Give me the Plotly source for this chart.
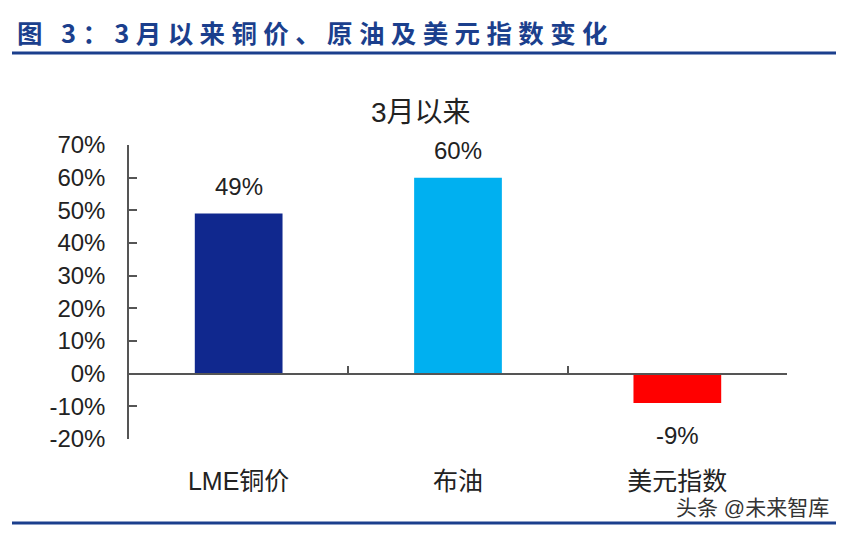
import plotly.graph_objects as go

# data
categories = ["LME铜价", "布油", "美元指数"]
values = [49, 60, -9]
labels = ["49%", "60%", "-9%"]
bar_colors = ["#10288e", "#00b0f0", "#ff0000"]
y_ticks = [-20, -10, 0, 10, 20, 30, 40, 50, 60, 70]
y_tick_text = [f"{v}%" for v in y_ticks]

# the page has an 8px body margin, so the figure sits at (8, 8)
OFF = 8
W, H = 844 - OFF, 534 - OFF
L, R, T, B = 129 - OFF, 57, 145 - OFF, 95
pw, ph = W - L - R, H - T - B

def px(x):
    return (x - OFF - L) / pw

def py(y):
    return (H - B - (y - OFF)) / ph

font = "Arial, Liberation Sans, Noto Sans CJK SC, sans-serif"
blue = "#1b3f8d"

fig = go.Figure()
fig.add_trace(go.Bar(x=categories, y=values, marker_color=bar_colors,
                     marker_line_width=0, width=0.4, showlegend=False))

zero_pos = (0 - y_ticks[0]) / (y_ticks[-1] - y_ticks[0])

fig.update_layout(
    width=W, height=H,
    margin=dict(l=L, r=R, t=T, b=B),
    plot_bgcolor="white", paper_bgcolor="white",
    font=dict(family=font, color="#222222"),
    xaxis=dict(anchor="free", position=zero_pos, showline=True,
               linecolor="#555555", linewidth=1.5,
               ticks="inside", tickson="boundaries", ticklen=7,
               tickcolor="#555555", tickwidth=1.5,
               ticklabelstandoff=86, tickfont=dict(size=25),
               showgrid=False, range=[-0.5, 2.5]),
    yaxis=dict(range=[y_ticks[0], y_ticks[-1]], tickvals=y_ticks,
               ticktext=y_tick_text, showline=True, linecolor="#555555",
               linewidth=1.5, ticks="inside", ticklen=8, tickcolor="#555555",
               tickwidth=1.5, showgrid=False, zeroline=False,
               ticklabelstandoff=17, tickfont=dict(size=24)),
    bargap=0.6,
)

# data labels
for c, v, t in zip(categories, values, labels):
    fig.add_annotation(x=c, y=v, text=t, showarrow=False,
                       yshift=27 if v >= 0 else -32,
                       font=dict(size=24, color="#222222"))

# chart title
fig.add_annotation(xref="paper", yref="paper", x=px(421), y=py(112),
                   text="3月以来", showarrow=False, xanchor="center",
                   yanchor="middle", font=dict(size=28, color="#222222"))

# figure header
header = "图 3：3月以来铜价、原油及美元指数变化"
fig.add_annotation(xref="paper", yref="paper", x=px(15), y=py(31),
                   text="<b>" + "\u2005".join(header) + "</b>", showarrow=False,
                   xanchor="left", yanchor="middle",
                   font=dict(size=25.5, color=blue,
                             family="Noto Sans CJK SC, sans-serif"))

# watermark
fig.add_annotation(xref="paper", yref="paper", x=px(831), y=py(507),
                   text="头条 @未来智库", showarrow=False, xanchor="right",
                   yanchor="middle", font=dict(size=21, color="#333333"))

# header and footer rules
for yy in (53, 523):
    fig.add_shape(type="line", xref="paper", yref="paper",
                  x0=px(12), x1=px(844), y0=py(yy), y1=py(yy),
                  line=dict(color=blue, width=3))

fig.write_html("out.html")
